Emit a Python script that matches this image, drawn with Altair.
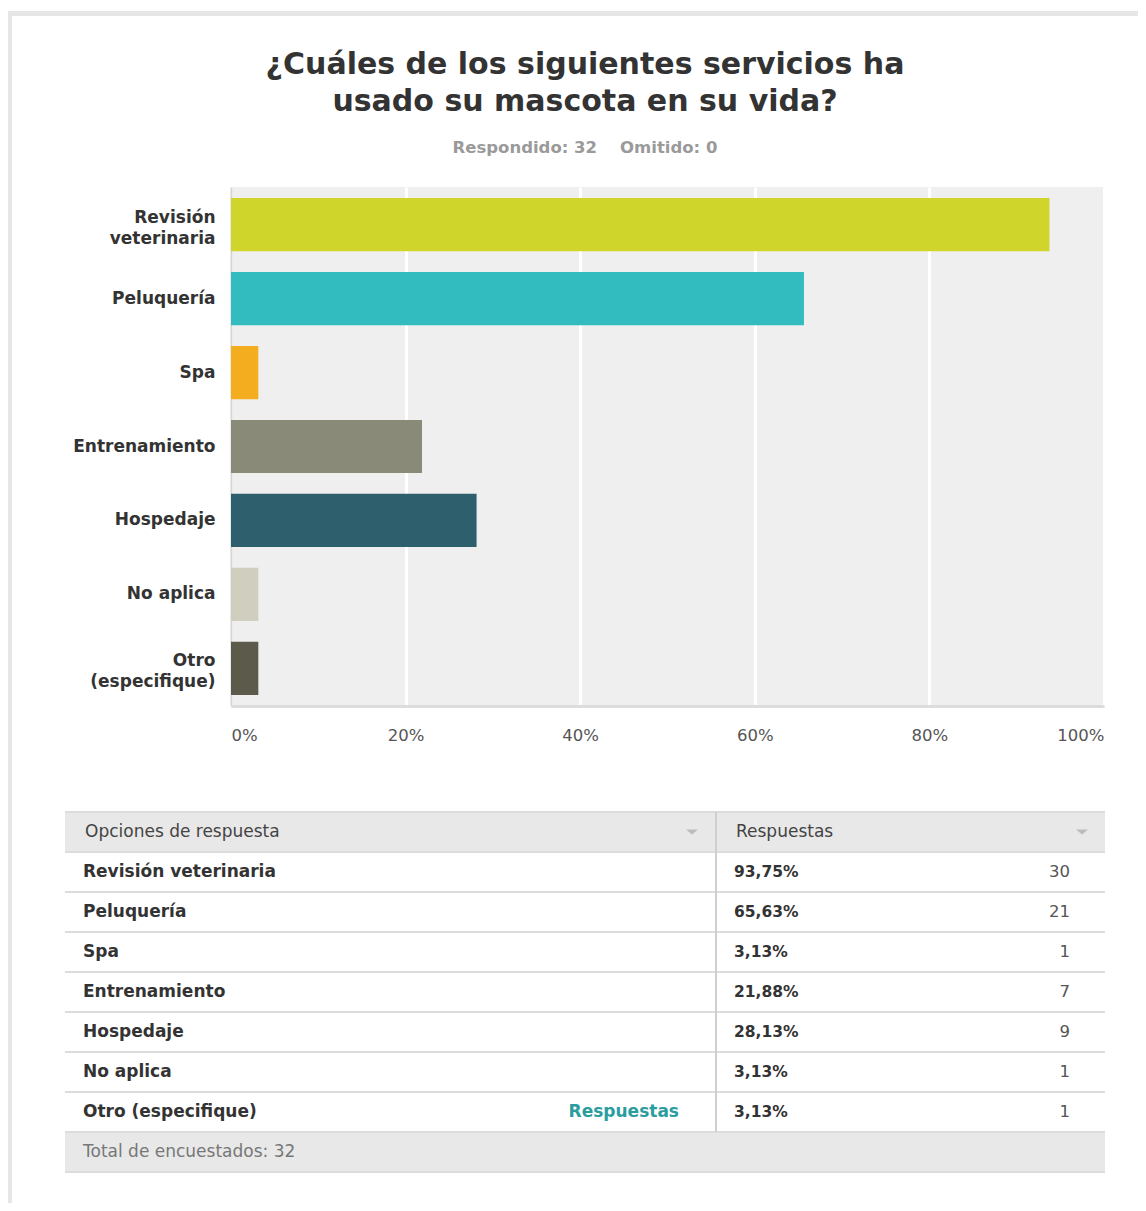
import altair as alt
import pandas as pd

FONT = "DejaVu Sans"

# ---------------- data ----------------
categories = ["Revisión veterinaria", "Peluquería", "Spa", "Entrenamiento",
              "Hospedaje", "No aplica", "Otro (especifique)"]
percents = [93.75, 65.63, 3.13, 21.88, 28.13, 3.13, 3.13]
pct_labels = ["93,75%", "65,63%", "3,13%", "21,88%", "28,13%", "3,13%", "3,13%"]
counts = [30, 21, 1, 7, 9, 1, 1]
bar_colors = ["#cfd52a", "#33bcbf", "#f5ad20", "#8a8a78", "#2e5f6d", "#d0cebe", "#5c5a4b"]
x_ticks = [0, 0.2, 0.4, 0.6, 0.8, 1.0]
title_lines = ["¿Cuáles de los siguientes servicios ha", "usado su mascota en su vida?"]
subtitle = "Respondido: 32\u00a0\u00a0\u00a0\u00a0Omitido: 0"
header = ["Opciones de respuesta", "Respuestas"]
footer = "Total de encuestados: 32"
link_text = "Respuestas"

# ---------------- bar chart ----------------
PW, PH = 873, 519
bars_df = pd.DataFrame({"cat": categories, "value": [p / 100 for p in percents]})
one = pd.DataFrame({"k": [0]})

frame_left = alt.Chart(one).mark_rect(color="#e6e6e6").encode(
    x=alt.value(-223), x2=alt.value(-219), y=alt.value(-176), y2=alt.value(619))
frame_top = alt.Chart(one).mark_rect(color="#e6e6e6").encode(
    x=alt.value(-223), x2=alt.value(907), y=alt.value(-176), y2=alt.value(-171))

title_mark = alt.Chart(pd.DataFrame({"t": ["\n".join(title_lines)]})).mark_text(
    font=FONT, fontSize=30, fontWeight="bold", color="#333333", align="center",
    baseline="alphabetic", lineBreak="\n", lineHeight=37
).encode(x=alt.value(354), y=alt.value(-113), text="t:N")

sub_mark = alt.Chart(pd.DataFrame({"t": [subtitle]})).mark_text(
    font=FONT, fontSize=16.5, fontWeight="bold", color="#9a9a9a", align="center",
    baseline="alphabetic"
).encode(x=alt.value(354), y=alt.value(-34), text="t:N")

multi_line = "length(datum.label) > 13"

bars = alt.Chart(bars_df).mark_bar().encode(
    x=alt.X("value:Q", scale=alt.Scale(domain=[0, 1], nice=False),
            axis=alt.Axis(values=x_ticks, format=".0%", title=None, grid=True,
                          gridColor="white", gridWidth=3, domainColor="#dcdcdc",
                          domainWidth=3, ticks=False, tickSize=0, labelPadding=21,
                          labelFlush=True, labelFont=FONT, labelFontSize=16.5,
                          labelColor="#555555")),
    y=alt.Y("cat:N", sort=categories,
            scale=alt.Scale(paddingInner=0.28, paddingOuter=0.15),
            axis=alt.Axis(title=None, ticks=False, tickSize=0, labelPadding=16,
                          labelFont=FONT, labelFontSize=17, labelFontWeight="bold",
                          labelColor="#333333", labelLimit=400,
                          labelExpr=multi_line + " ? split(datum.label, ' ') : datum.label",
                          labelOffset={"condition": {"test": multi_line, "value": -7}, "value": 0},
                          labelLineHeight=21, domainColor="#d5d5d5", domainWidth=2,
                          grid=False)),
    color=alt.Color("cat:N", scale=alt.Scale(domain=categories, range=bar_colors), legend=None),
)

bar_chart = alt.layer(frame_left, frame_top, title_mark, sub_mark, bars).properties(
    width=PW, height=PH, view=alt.ViewBackground(fill="#efefef", stroke=None))

# ---------------- table ----------------
TW, TH = 874, 360
L = -166  # table left edge relative to the shared plot origin
rows = list(range(9))
table_df = pd.DataFrame({
    "row": rows,
    "kind": ["header"] + ["data"] * 7 + ["footer"],
    "label": [header[0]] + categories + [footer],
    "col2": [header[1]] + pct_labels + [""],
    "count": [""] + [str(c) for c in counts] + [""],
    "link": [""] * 7 + [link_text] + [""],
})

yscale = alt.Scale(domain=rows, paddingInner=0, paddingOuter=0)
Y = alt.Y("row:O", scale=yscale, axis=None)
base = alt.Chart(table_df)

t_left = alt.Chart(one).mark_rect(color="#e6e6e6").encode(
    x=alt.value(-223), x2=alt.value(-219), y=alt.value(-6), y2=alt.value(391))

hf_fill = base.transform_filter("datum.kind != 'data'").mark_rect(color="#e8e8e8").encode(
    x=alt.value(L), x2=alt.value(TW), y=Y)

hlines = base.mark_rule(color="#dcdcdc", strokeWidth=2).encode(
    x=alt.value(L), x2=alt.value(TW),
    y=alt.Y("row:O", scale=yscale, axis=None, bandPosition=0))
bottom_line = base.transform_filter("datum.kind == 'footer'").mark_rule(
    color="#dcdcdc", strokeWidth=2).encode(
    x=alt.value(L), x2=alt.value(TW),
    y=alt.Y("row:O", scale=yscale, axis=None, bandPosition=1))

divider = base.transform_filter("datum.kind != 'footer'").mark_rect(color="#cfcfcf").encode(
    x=alt.value(484), x2=alt.value(486), y=Y)

hdr_txt1 = base.transform_filter("datum.kind == 'header'").mark_text(
    font=FONT, fontSize=17, color="#444444", align="left", baseline="middle").encode(
    x=alt.value(-146), y=Y, text="label:N")
hdr_txt2 = base.transform_filter("datum.kind == 'header'").mark_text(
    font=FONT, fontSize=17, color="#444444", align="left", baseline="middle").encode(
    x=alt.value(505), y=Y, text="col2:N")

arrow_path = "M-1,-0.4L1,-0.4L0,0.4Z"
arrow1 = base.transform_filter("datum.kind == 'header'").mark_point(
    shape=arrow_path, filled=True, size=144, color="#bbbbbb", opacity=1).encode(
    x=alt.value(461), y=Y)
arrow2 = base.transform_filter("datum.kind == 'header'").mark_point(
    shape=arrow_path, filled=True, size=144, color="#bbbbbb", opacity=1).encode(
    x=alt.value(851), y=Y)

row_lbl = base.transform_filter("datum.kind == 'data'").mark_text(
    font=FONT, fontSize=17, fontWeight="bold", color="#333333", align="left",
    baseline="middle").encode(x=alt.value(-148), y=Y, text="label:N")
row_pct = base.transform_filter("datum.kind == 'data'").mark_text(
    font=FONT, fontSize=15.5, fontWeight="bold", color="#333333", align="left",
    baseline="middle").encode(x=alt.value(503), y=Y, text="col2:N")
row_cnt = base.transform_filter("datum.kind == 'data'").mark_text(
    font=FONT, fontSize=16.5, color="#555555", align="right",
    baseline="middle").encode(x=alt.value(839), y=Y, text="count:N")
row_link = base.transform_filter("datum.link != ''").mark_text(
    font=FONT, fontSize=17, fontWeight="bold", color="#2a9d9f", align="right",
    baseline="middle").encode(x=alt.value(448), y=Y, text="link:N")
foot_txt = base.transform_filter("datum.kind == 'footer'").mark_text(
    font=FONT, fontSize=17, color="#777777", align="left", baseline="middle").encode(
    x=alt.value(-148), y=Y, text="label:N")

table_chart = alt.layer(
    t_left, hf_fill, hlines, bottom_line, divider, hdr_txt1, hdr_txt2, arrow1, arrow2,
    row_lbl, row_pct, row_cnt, row_link, foot_txt
).properties(width=TW, height=TH, view=alt.ViewBackground(fill=None, stroke=None))

chart = alt.vconcat(bar_chart, table_chart, spacing=0).properties(
    padding={"left": 0, "top": 3, "right": 0, "bottom": 0},
    background="white",
).configure(font=FONT).configure_view(stroke=None)

chart.save("out.html", embed_options={"renderer": "svg", "actions": False})
